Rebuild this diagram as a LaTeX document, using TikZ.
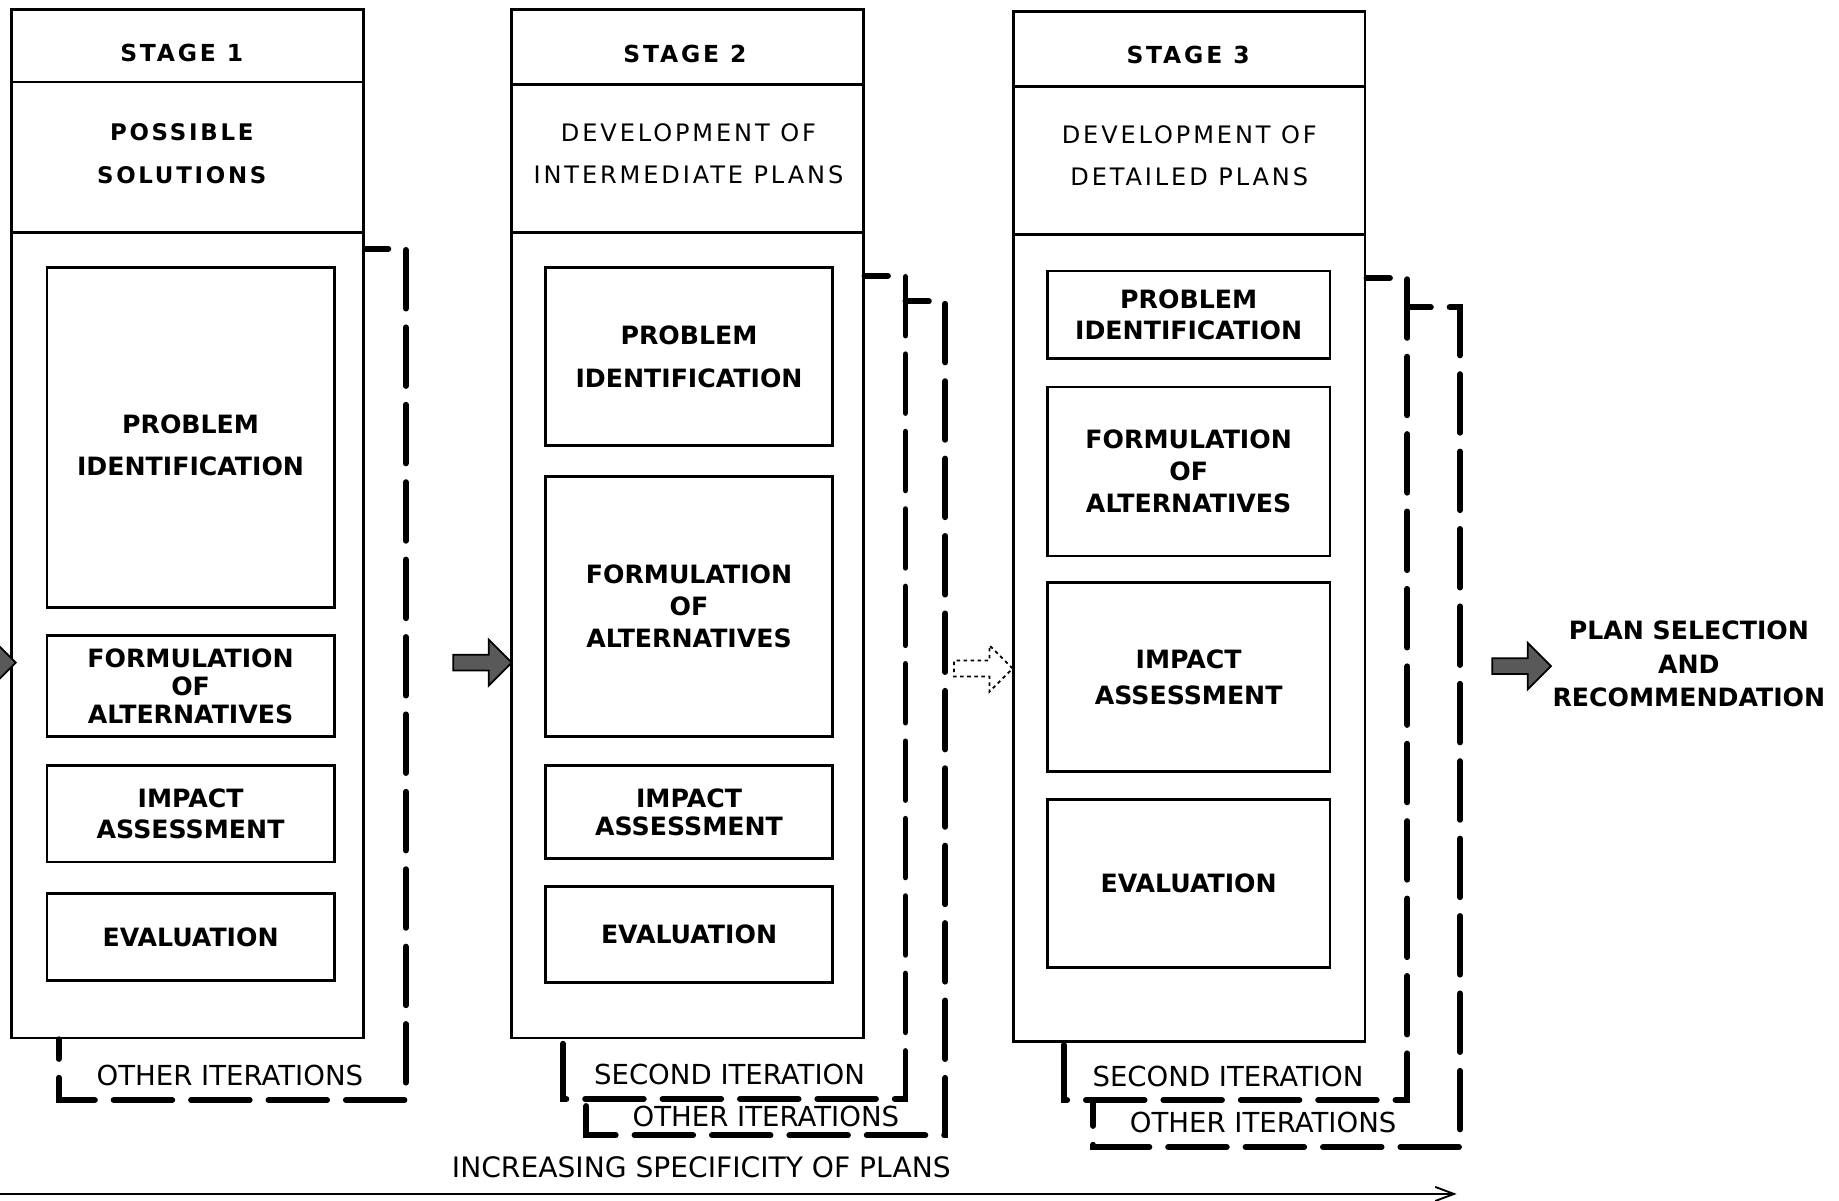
\documentclass[tikz,border=0pt]{standalone}
\usepackage{fontspec}
\setmainfont{DejaVu Sans}
\newfontfamily\spacedfont[LetterSpace=12]{DejaVu Sans}
\usepackage{tikz}
\usetikzlibrary{arrows.meta,shapes.arrows}

\begin{document}
\begin{tikzpicture}[x=1pt,y=-1pt,
  stagebox/.style={draw,line width=2.2pt,minimum width=300pt,inner sep=0pt},
  inbox/.style={draw,line width=2.4pt,minimum width=245pt,inner sep=0pt,align=center,
    font=\bfseries\fontsize{21.5}{27}\selectfont},
  stagelabel/.style={font=\spacedfont\bfseries\fontsize{20}{24}\selectfont},
  title/.style={align=center,font=\spacedfont\fontsize{20.5}{36}\selectfont},
  iterlabel/.style={font=\fontsize{23.5}{26}\selectfont},
  loopline/.style={line width=5pt,line cap=round,dash pattern=on 50pt off 16pt,dash phase=30pt},
  blockarrow/.style={single arrow,draw,line width=1.5pt,fill=black!65,minimum height=50pt,
    inner sep=6pt,single arrow head extend=13pt}]

\useasboundingbox (0,0) rectangle (1568,1024);

%%%%%%%%%%%%%%%
\begin{scope}[shift={(10,0)}]
\node[stagebox,minimum height=877pt] (S) at (150,446.5) {};
\draw[line width=2.2pt] (S.west |- 0,70) -- (S.east |- 0,70);
\draw[line width=2.2pt] (S.west |- 0,198) -- (S.east |- 0,198);

\node[stagelabel] (T) at (145,45) {STAGE 1};
\node[title,font=\spacedfont\bfseries\fontsize{19.5}{36}\selectfont] (N) at (145,131) {POSSIBLE\\SOLUTIONS};

\node[inbox,minimum height=290pt] (P) at (152.5,373) {\mbox{}\\[3pt]PROBLEM\\[9pt]IDENTIFICATION};
\node[inbox,minimum height=86pt] (F) at (152.5,585) {FORMULATION\\[-3pt]OF\\[-3pt]ALTERNATIVES};
\node[inbox,minimum height=82pt] (I) at (152.5,694) {IMPACT\\ASSESSMENT};
\node[inbox,minimum height=74pt] (E) at (152.5,799) {EVALUATION};

\draw[loopline] (S.east |- 0,212) -- (336,212) -- (336,938) -- (40,938) -- (S.south -| 40,0);
\node[iterlabel] (L) at (186,917) {OTHER ITERATIONS};
\end{scope}

%%%%%%%%%%%%%%%
\begin{scope}[shift={(435,0)}]
\node[stagebox,minimum height=877pt] (S) at (151,446.5) {};
\draw[line width=2.2pt] (S.west |- 0,72) -- (S.east |- 0,72);
\draw[line width=2.2pt] (S.west |- 0,198) -- (S.east |- 0,198);

\node[stagelabel] (T) at (149,46) {STAGE 2};
\node[title] (N) at (152,131) {DEVELOPMENT OF\\INTERMEDIATE PLANS};

\node[inbox,minimum height=152pt] (P) at (152.5,304) {PROBLEM\\[10pt]IDENTIFICATION};
\node[inbox,minimum height=222pt] (F) at (152.5,517) {FORMULATION\\OF\\ALTERNATIVES};
\node[inbox,minimum height=79pt] (I) at (152.5,692.5) {IMPACT\\[-3pt]ASSESSMENT};
\node[inbox,minimum height=82pt] (E) at (152.5,797) {EVALUATION};

\draw[loopline] (S.east |- 0,235) -- (337,235) -- (337,937) -- (45,937) -- (S.south -| 45,0);
\coordinate (jA) at (337,257);
\coordinate (jB) at (65,937);
\draw[loopline] (jA) -- (371,257) -- (371,968) -- (65,968) -- (jB);
\node[iterlabel] (L) at (187,916) {SECOND ITERATION};
\node[iterlabel] (M) at (218,952) {OTHER ITERATIONS};
\end{scope}

%%%%%%%%%%%%%%%
\begin{scope}[shift={(864,0)}]
\node[stagebox,minimum height=878pt] (S) at (150,449) {};
\draw[line width=2.2pt] (S.west |- 0,74) -- (S.east |- 0,74);
\draw[line width=2.2pt] (S.west |- 0,200) -- (S.east |- 0,200);

\node[stagelabel] (T) at (149,47) {STAGE 3};
\node[title] (N) at (150,132.5) {DEVELOPMENT OF\\DETAILED PLANS};

\node[inbox,minimum width=241pt,minimum height=75pt] (P) at (149.5,268.5) {PROBLEM\\IDENTIFICATION};
\node[inbox,minimum width=241pt,minimum height=144pt] (F) at (149.5,402) {FORMULATION\\OF\\ALTERNATIVES};
\node[inbox,minimum width=241pt,minimum height=161pt] (I) at (149.5,577.5) {IMPACT\\[3pt]ASSESSMENT};
\node[inbox,minimum width=241pt,minimum height=143pt] (E) at (149.5,753.5) {EVALUATION};

\draw[loopline] (S.east |- 0,237) -- (336,237) -- (336,938) -- (43,938) -- (S.south -| 43,0);
\coordinate (jA) at (336,262);
\coordinate (jB) at (68,938);
\draw[loopline] (jA) -- (381,262) -- (381,978) -- (68,978) -- (jB);
\node[iterlabel] (L) at (183,918) {SECOND ITERATION};
\node[iterlabel] (M) at (213,957) {OTHER ITERATIONS};
\end{scope}

%%%%%%%%%%%%%%%
\node[blockarrow] (a0) at (-15,565) {};
\node[blockarrow] (a12) at (408,565) {};
\node[blockarrow,fill=white,dashed] (a23) at (835,570) {};
\node[blockarrow] (a3) at (1294,568) {};

\node[align=center,font=\bfseries\fontsize{21.5}{28.5}\selectfont] (plan) at (1440,566)
  {PLAN SELECTION\\AND\\RECOMMENDATION};

\coordinate (base) at (0,1018);
\coordinate (tip) at (1242,1018);
\draw[line width=1.6pt,-{Straight Barb[length=16pt,width=12pt]}] (base) -- (tip);
\node[iterlabel,font=\fontsize{24}{26}\selectfont] (spec) at (598,995) {INCREASING SPECIFICITY OF PLANS};

\end{tikzpicture}
\end{document}
